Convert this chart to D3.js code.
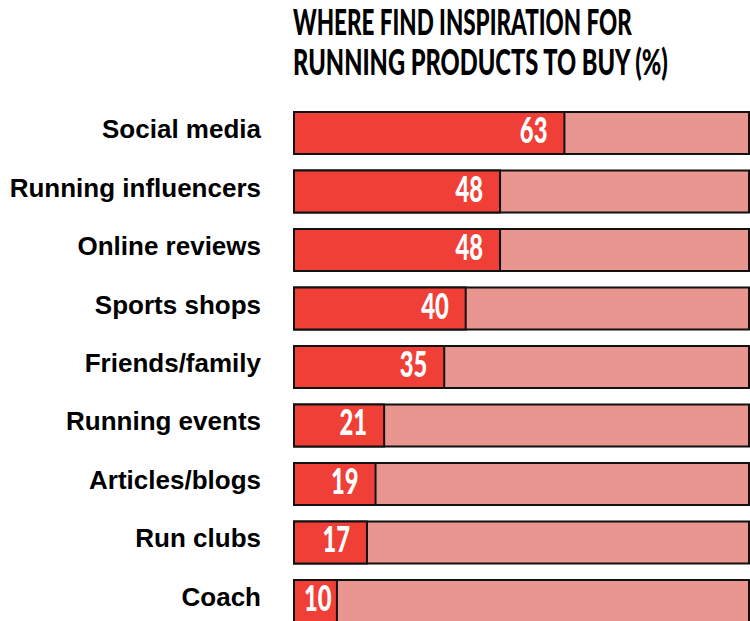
<!DOCTYPE html>
<html>
<head>
<meta charset="utf-8">
<script src="https://cdn.jsdelivr.net/npm/d3@7"></script>
<style>
  html, body { margin: 0; padding: 0; background: #fff; }
  svg { display: block; }
</style>
</head>
<body>
<svg id="chart" width="750" height="621"></svg>
<script>
// Share of runners naming each source of inspiration (%)
const categories = [
  "Social media", "Running influencers", "Online reviews", "Sports shops",
  "Friends/family", "Running events", "Articles/blogs", "Run clubs", "Coach"
];
const values = [63, 48, 48, 40, 35, 21, 19, 17, 10];
const titleLines = ["WHERE FIND INSPIRATION FOR", "RUNNING PRODUCTS TO BUY (%)"];

const svg = d3.select("#chart");

const RED = "#ef3f37";
const PINK = "#e99690";
const INK = "#111";

const x = d3.scaleLinear().domain([0, 106]).range([294, 749]);
const y = d3.scaleBand().domain(categories).range([112, 622]).paddingInner(0.282).paddingOuter(0);

const heavy = "'Lato', 'Roboto', 'Inter', sans-serif";

// Title: two stacked lines in a heavy face, squeezed horizontally to a set width
const titleWidths = [339, 375];
svg.append("g").selectAll("text")
  .data(titleLines)
  .join("text")
  .attr("font-family", heavy)
  .attr("font-weight", 900)
  .attr("font-size", 37)
  .attr("fill", "#000")
  .text(d => d)
  .each(function (d, i) {
    const w = this.getComputedTextLength();
    const k = titleWidths[i] / w;
    d3.select(this).attr("transform", `translate(293,${35 + i * 40}) scale(${k},1)`);
  });

const rows = svg.append("g").selectAll("g")
  .data(categories.map((c, i) => ({ c, v: values[i] })))
  .join("g");

// full-width track
rows.append("rect")
  .attr("x", x(0))
  .attr("y", d => y(d.c))
  .attr("width", x.range()[1] - x(0))
  .attr("height", y.bandwidth())
  .attr("fill", PINK)
  .attr("stroke", INK)
  .attr("stroke-width", 2);

// value bar
rows.append("rect")
  .attr("x", x(0))
  .attr("y", d => y(d.c))
  .attr("width", d => x(d.v) - x(0))
  .attr("height", y.bandwidth())
  .attr("fill", RED)
  .attr("stroke", INK)
  .attr("stroke-width", 2);

// value labels inside the bar, kept clear of the bar's left edge
const squeeze = 0.66;
rows.append("text")
  .attr("text-anchor", "end")
  .attr("font-family", heavy)
  .attr("font-weight", 900)
  .attr("font-size", 36)
  .attr("fill", "#fff")
  .text(d => d.v)
  .each(function (d) {
    const w = this.getComputedTextLength() * squeeze;
    const right = Math.max(x(d.v) - 17, x(0) + w + 10);
    d3.select(this).attr("transform",
      `translate(${right},${y(d.c) + y.bandwidth() / 2 + 10}) scale(${squeeze},1)`);
  });

// category labels
rows.append("text")
  .attr("x", 261)
  .attr("y", d => y(d.c) + y.bandwidth() / 2 + 5)
  .attr("text-anchor", "end")
  .attr("font-family", "'Liberation Sans', Arial, sans-serif")
  .attr("font-weight", 700)
  .attr("font-size", 26)
  .attr("fill", "#000")
  .text(d => d.c);
</script>
</body>
</html>
